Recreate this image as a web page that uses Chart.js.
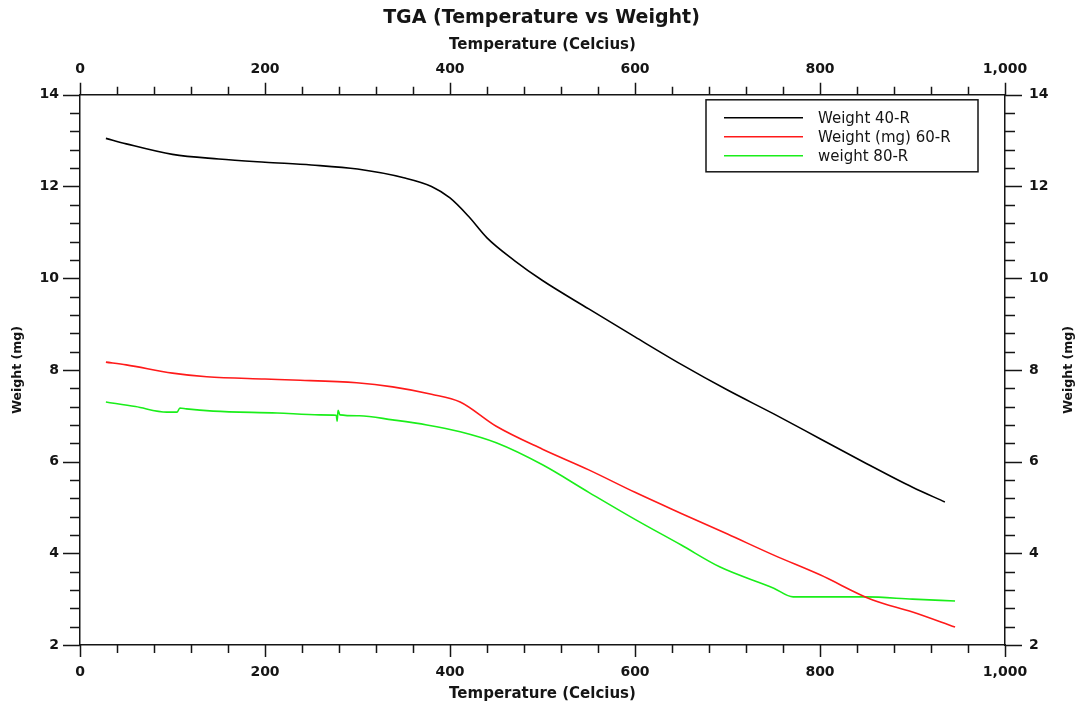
<!DOCTYPE html>
<html>
<head>
<meta charset="utf-8">
<script src="https://cdn.jsdelivr.net/npm/chart.js@4"></script>
<style>
  html, body { margin:0; padding:0; background:#fff; }
  #wrap { width:1083px; height:706px; }
</style>
</head>
<body>
<div id="wrap"><canvas id="tga"></canvas></div>
<script>
const seriesNames = ["Weight 40-R", "Weight (mg) 60-R", "weight 80-R"];
const seriesColors = ["#000000", "#ff1a1a", "#1aee1a"];

const tempBlack   = [28, 50, 100, 150, 200, 250, 300, 350, 380, 400, 420, 440, 470, 500, 550, 600, 650, 700, 750, 800, 850, 900, 935];
const weightBlack = [13.05, 12.93, 12.7, 12.6, 12.53, 12.47, 12.38, 12.19, 12.0, 11.75, 11.35, 10.88, 10.38, 9.95, 9.33, 8.72, 8.12, 7.56, 7.04, 6.5, 5.96, 5.44, 5.12];

const tempRed   = [28, 50, 100, 137, 200, 230, 299, 338, 380, 411, 450, 500, 550, 600, 650, 700, 750, 800, 857, 900, 946];
const weightRed = [8.17, 8.11, 7.93, 7.85, 7.8, 7.78, 7.72, 7.63, 7.47, 7.3, 6.77, 6.27, 5.82, 5.33, 4.87, 4.42, 3.96, 3.53, 2.98, 2.72, 2.39];

const tempGreen   = [28, 60, 94, 105, 108, 115, 144, 213, 259, 277, 278, 279, 281, 302, 338, 375, 411, 450, 500, 550, 600, 650, 692, 750, 771, 850, 900, 946];
const weightGreen = [7.3, 7.2, 7.08, 7.08, 7.17, 7.15, 7.1, 7.06, 7.02, 7.01, 6.88, 7.12, 7.02, 7.0, 6.91, 6.8, 6.65, 6.41, 5.93, 5.33, 4.74, 4.18, 3.7, 3.24, 3.05, 3.05, 3.0, 2.96];

const xTicks = [0, 200, 400, 600, 800, 1000];
const yTicks = [2, 4, 6, 8, 10, 12, 14];

const FONT = "'DejaVu Sans', Arial, sans-serif";
const ink = "#151515";

const pts = (xs, ys) => xs.map((x, i) => ({ x: x, y: ys[i] }));

// outward tick marks (major + minor) on all four sides
const tickMarks = {
  id: "tickMarks",
  afterDraw(chart) {
    const ctx = chart.ctx, a = chart.chartArea;
    const xs = chart.scales.x, ys = chart.scales.y;
    ctx.save();
    ctx.strokeStyle = ink;
    ctx.lineWidth = 1.5;
    ctx.beginPath();
    for (let v = 0; v <= 1000; v += 40) {
      const p = Math.round(xs.getPixelForValue(v)) + 0.5;
      const len = v % 200 === 0 ? 12 : 8;
      ctx.moveTo(p, a.bottom); ctx.lineTo(p, a.bottom + len);
      ctx.moveTo(p, a.top); ctx.lineTo(p, a.top - len);
    }
    for (let v = 2; v <= 14.001; v += 0.4) {
      const p = Math.round(ys.getPixelForValue(v)) + 0.5;
      const major = Math.abs(v / 2 - Math.round(v / 2)) < 0.01;
      const len = major ? 17 : 10;
      ctx.moveTo(a.left, p); ctx.lineTo(a.left - len, p);
      ctx.moveTo(a.right, p); ctx.lineTo(a.right + len, p);
    }
    ctx.stroke();

    // right axis title, reading bottom to top like the left one
    ctx.fillStyle = ink;
    ctx.font = "bold 12.5px " + FONT;
    ctx.textAlign = "center";
    ctx.textBaseline = "middle";
    ctx.translate(1069, (a.top + a.bottom) / 2);
    ctx.rotate(-Math.PI / 2);
    ctx.fillText("Weight (mg)", 0, 0);
    ctx.restore();
  }
};

// boxed legend in the upper right corner of the plot
const boxLegend = {
  id: "boxLegend",
  afterDraw(chart) {
    const ctx = chart.ctx, a = chart.chartArea;
    const bx = a.right - 299, by = a.top + 5, bw = 272, bh = 72;
    ctx.save();
    ctx.fillStyle = "#fff";
    ctx.fillRect(bx, by, bw, bh);
    ctx.strokeStyle = ink;
    ctx.lineWidth = 1.5;
    ctx.strokeRect(bx, by, bw, bh);
    ctx.font = "15px " + FONT;
    ctx.textBaseline = "middle";
    chart.data.datasets.forEach((ds, i) => {
      const yy = by + 18 + i * 19;
      ctx.strokeStyle = ds.borderColor;
      ctx.beginPath();
      ctx.moveTo(bx + 18, yy); ctx.lineTo(bx + 97, yy);
      ctx.stroke();
      ctx.fillStyle = ink;
      ctx.fillText(ds.label, bx + 112, yy + 1);
    });
    ctx.restore();
  }
};

const tickFont = { family: FONT, size: 14, weight: "bold" };
const xTitleFont = { family: FONT, size: 15, weight: "bold" };
const yTitleFont = { family: FONT, size: 12.5, weight: "bold" };

new Chart(document.getElementById("tga"), {
  type: "line",
  data: {
    datasets: [
      { label: seriesNames[0], data: pts(tempBlack, weightBlack), borderColor: seriesColors[0] },
      { label: seriesNames[1], data: pts(tempRed, weightRed), borderColor: seriesColors[1] },
      { label: seriesNames[2], data: pts(tempGreen, weightGreen), borderColor: seriesColors[2] }
    ]
  },
  options: {
    responsive: true,
    maintainAspectRatio: false,
    animation: false,
    layout: { padding: 0 },
    elements: {
      point: { radius: 0 },
      line: { borderWidth: 1.6, cubicInterpolationMode: "monotone" }
    },
    plugins: {
      legend: { display: false },
      tooltip: { enabled: false },
      title: {
        display: true,
        text: "TGA (Temperature vs Weight)",
        color: ink,
        font: { family: FONT, size: 19, weight: "bold" },
        padding: { top: 7, bottom: 0 }
      }
    },
    scales: {
      x: {
        type: "linear", position: "bottom", min: 0, max: 1000,
        afterBuildTicks: s => { s.ticks = xTicks.map(v => ({ value: v })); },
        afterFit: s => { s.height = 61; },
        ticks: { color: ink, font: tickFont, padding: 19, maxRotation: 0,
                 callback: v => v.toLocaleString("en-US") },
        grid: { drawOnChartArea: false, drawTicks: false },
        border: { color: ink, width: 1.5 },
        title: { display: true, text: "Temperature (Celcius)", color: ink, font: xTitleFont, padding: { top: 0, bottom: 3 } }
      },
      x2: {
        type: "linear", position: "top", min: 0, max: 1000,
        afterBuildTicks: s => { s.ticks = xTicks.map(v => ({ value: v })); },
        afterFit: s => { s.height = 65; },
        ticks: { color: ink, font: tickFont, padding: 17, maxRotation: 0,
                 callback: v => v.toLocaleString("en-US") },
        grid: { drawOnChartArea: false, drawTicks: false },
        border: { color: ink, width: 1.5 },
        title: { display: true, text: "Temperature (Celcius)", color: ink, font: xTitleFont, padding: { top: 6, bottom: 0 } }
      },
      y: {
        type: "linear", position: "left", min: 2, max: 14,
        afterBuildTicks: s => { s.ticks = yTicks.map(v => ({ value: v })); },
        afterFit: s => { s.width = 80; },
        ticks: { color: ink, font: tickFont, padding: 21 },
        grid: { drawOnChartArea: false, drawTicks: false },
        border: { color: ink, width: 1.5 },
        title: { display: true, text: "Weight (mg)", color: ink, font: yTitleFont, padding: { top: 10, bottom: 0 } }
      },
      y2: {
        type: "linear", position: "right", min: 2, max: 14,
        afterBuildTicks: s => { s.ticks = yTicks.map(v => ({ value: v })); },
        afterFit: s => { s.width = 78; },
        ticks: { color: ink, font: tickFont, padding: 24 },
        grid: { drawOnChartArea: false, drawTicks: false },
        border: { color: ink, width: 1.5 }
      }
    }
  },
  plugins: [tickMarks, boxLegend]
});
</script>
</body>
</html>
